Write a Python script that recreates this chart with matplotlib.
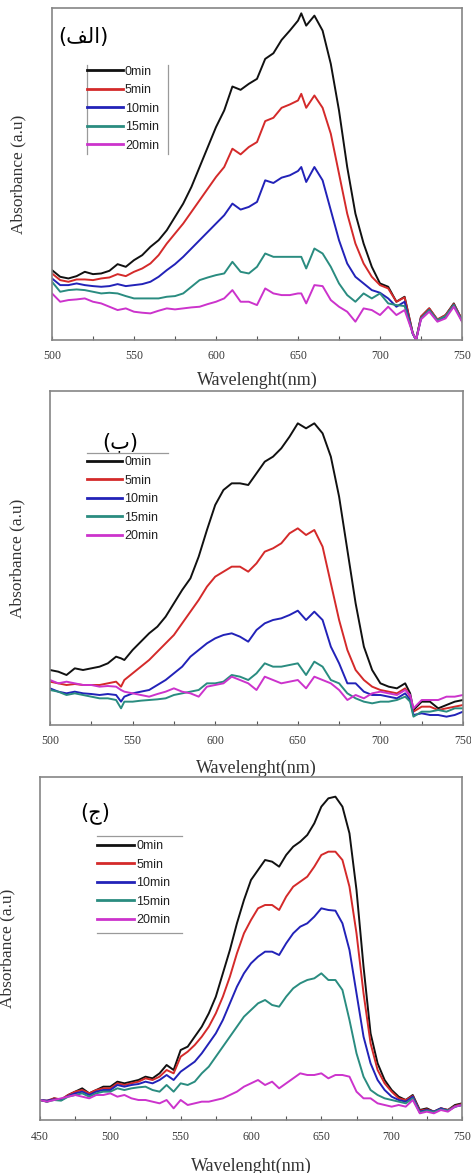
import matplotlib
matplotlib.use("Agg")
import matplotlib.pyplot as plt
from matplotlib.lines import Line2D
from matplotlib.ticker import MultipleLocator

# ---------------- data (absorbance, arbitrary units) ----------------
labels = ["0min", "5min", "10min", "15min", "20min"]
colors = ["#111111", "#d42a2a", "#2222b8", "#2a8c80", "#cc33cc"]

# Panel (a)
wl_a = list(range(500, 651, 5)) + [652] + list(range(655, 721, 5)) + [722] + list(range(725, 751, 5))
a_0 = [210, 190, 185, 192, 205, 198, 200, 208, 228, 220, 240, 255, 280, 300, 330, 370, 410, 460, 520, 580,
       640, 690, 762, 752, 770, 785, 845, 862, 902, 930, 960, 982, 945, 975, 930, 830, 690, 520, 380, 290,
       220, 170, 160, 115, 130, 20, 0, 70, 95, 60, 75, 110, 60]
a_5 = [200, 180, 175, 182, 182, 180, 185, 188, 198, 192, 205, 215, 230, 255, 290, 320, 350, 385, 420, 455,
       490, 520, 575, 558, 580, 595, 658, 668, 698, 708, 720, 740, 698, 735, 698, 620, 500, 380, 290, 230,
       190, 165, 155, 115, 128, 20, 2, 70, 95, 62, 75, 108, 62]
a_10 = [185, 165, 165, 170, 165, 162, 160, 162, 168, 162, 165, 168, 175, 190, 210, 228, 250, 275, 300, 325,
        350, 375, 410, 392, 400, 415, 480, 472, 488, 495, 508, 520, 475, 520, 480, 390, 300, 230, 190, 170,
        150, 142, 125, 100, 115, 18, 0, 65, 90, 58, 70, 105, 58]
a_15 = [175, 145, 150, 152, 150, 145, 140, 142, 140, 132, 125, 125, 125, 125, 130, 132, 140, 160, 180, 188,
        195, 200, 235, 205, 200, 220, 260, 250, 250, 250, 250, 250, 215, 275, 260, 220, 170, 135, 115, 140,
        125, 140, 110, 105, 102, 20, 2, 65, 90, 60, 72, 105, 58]
a_20 = [140, 115, 120, 122, 125, 115, 110, 100, 90, 95, 85, 82, 80, 88, 95, 92, 95, 98, 100, 108,
        115, 125, 150, 115, 115, 105, 155, 140, 135, 135, 140, 140, 110, 165, 162, 120, 100, 85, 55, 95,
        90, 75, 100, 75, 90, 20, 0, 62, 85, 55, 65, 100, 55]

# Panel (b)
wl_b = list(range(500, 541, 5)) + [543] + list(range(545, 716, 5)) + [718] + list(range(720, 751, 5))
b_0 = [165, 160, 150, 170, 165, 170, 175, 185, 205, 200, 195, 225, 250, 275, 295, 325, 365, 405, 440, 505,
       585, 660, 705, 725, 725, 720, 755, 790, 805, 830, 865, 905, 890, 905, 875, 805, 685, 525, 365, 235,
       165, 125, 115, 110, 125, 95, 45, 70, 70, 50, 60, 70, 75]
b_5 = [130, 125, 120, 123, 120, 120, 120, 125, 130, 115, 135, 155, 175, 195, 220, 245, 270, 305, 340, 375,
       415, 445, 460, 475, 475, 460, 485, 520, 530, 545, 575, 590, 570, 585, 535, 425, 315, 225, 165, 135,
       115, 105, 100, 95, 110, 85, 40, 55, 55, 45, 50, 55, 60]
b_10 = [110, 100, 95, 100, 95, 93, 90, 93, 90, 70, 85, 95, 100, 105, 120, 135, 155, 175, 205, 225,
        245, 260, 270, 275, 265, 250, 285, 305, 315, 320, 330, 343, 315, 340, 315, 235, 185, 125, 125, 100,
        90, 90, 85, 80, 95, 75, 30, 35, 30, 30, 25, 30, 40]
b_15 = [105, 100, 90, 95, 90, 85, 80, 80, 75, 50, 70, 70, 73, 75, 77, 80, 90, 95, 100, 105,
        125, 125, 130, 150, 145, 135, 155, 185, 175, 175, 180, 185, 150, 190, 175, 135, 125, 95, 80, 70,
        65, 70, 70, 75, 85, 70, 25, 40, 40, 45, 40, 50, 50]
b_20 = [135, 125, 130, 125, 120, 120, 115, 117, 115, 105, 100, 95, 90, 85, 93, 100, 110, 100, 95, 85,
        115, 120, 125, 145, 135, 125, 105, 145, 135, 125, 130, 135, 110, 145, 135, 125, 105, 75, 90, 80,
        95, 100, 95, 90, 105, 90, 50, 75, 75, 75, 85, 85, 90]

# Panel (c)
wl_c = list(range(450, 751, 5))
c_0 = [60, 55, 65, 60, 75, 85, 95, 80, 90, 100, 100, 115, 110, 115, 120, 130, 125, 140, 165, 150,
       210, 220, 250, 280, 320, 370, 440, 510, 590, 660, 720, 750, 780, 775, 760, 795, 820, 835, 855, 890,
       940, 965, 970, 940, 860, 690, 460, 260, 170, 120, 90, 70, 60, 75, 30, 35, 25, 35, 30, 45, 50]
c_5 = [60, 58, 65, 62, 75, 85, 90, 80, 90, 95, 95, 110, 105, 110, 115, 125, 120, 130, 150, 140,
       190, 205, 225, 250, 280, 320, 370, 430, 500, 560, 600, 635, 645, 645, 630, 670, 700, 715, 730, 760,
       795, 805, 805, 780, 700, 560, 380, 230, 150, 110, 85, 65, 60, 72, 28, 32, 25, 35, 30, 42, 48]
c_10 = [60, 58, 62, 60, 72, 80, 85, 75, 85, 90, 90, 105, 100, 105, 108, 115, 110, 120, 135, 120,
        145, 160, 175, 200, 230, 260, 300, 350, 400, 440, 470, 490, 505, 505, 495, 530, 560, 580, 590, 610,
        635, 630, 628, 590, 510, 380, 250, 170, 120, 90, 70, 60, 55, 70, 25, 30, 25, 35, 28, 40, 45]
c_15 = [60, 55, 60, 58, 70, 75, 80, 70, 80, 85, 85, 95, 90, 95, 98, 100, 90, 85, 105, 85,
        110, 105, 115, 140, 160, 190, 220, 250, 280, 310, 330, 350, 360, 345, 340, 370, 395, 410, 420, 425,
        440, 420, 420, 390, 300, 200, 130, 90, 75, 65, 60, 55, 50, 65, 22, 28, 24, 32, 28, 40, 45]
c_20 = [60, 55, 60, 65, 70, 75, 70, 65, 75, 75, 80, 70, 75, 65, 60, 60, 55, 50, 60, 35,
        60, 45, 50, 55, 55, 60, 65, 75, 85, 100, 110, 120, 105, 115, 95, 110, 125, 140, 135, 135,
        140, 125, 135, 135, 130, 85, 65, 65, 50, 45, 40, 45, 40, 60, 20, 25, 20, 30, 25, 40, 45]

# panel tags, written in visual order with Arabic presentation forms
tags = ["(\uFED2\uFEDF\uFE8D)", "(\uFE8F)", "(\uFE9D)"]

panels = [
    dict(wl=wl_a, ys=[a_0, a_5, a_10, a_15, a_20], xlim=(500, 750), ylim=(0, 998),
         rect=(52, 8, 462, 340), leg=(0.085, 0.826, 2.9), tag=(0.076, 0.913),
         frame=[((0.085, 0.085), (0.829, 0.559)), ((0.283, 0.283), (0.829, 0.559))],
         ylab=-0.062, xlab=-0.096, pad=7),
    dict(wl=wl_b, ys=[b_0, b_5, b_10, b_15, b_20], xlim=(500, 750), ylim=(0, 1002),
         rect=(50, 391, 463, 725), leg=(0.09, 0.805, 2.8), tag=(0.17, 0.847),
         frame=[((0.09, 0.286), (0.814, 0.814))],
         ylab=-0.06, xlab=-0.105, pad=7.5),
    dict(wl=wl_c, ys=[c_0, c_5, c_10, c_15, c_20], xlim=(450, 750), ylim=(0, 1029),
         rect=(40, 777, 462, 1120), leg=(0.135, 0.816, 3.0), tag=(0.13, 0.895),
         frame=[((0.135, 0.336), (0.828, 0.828)), ((0.135, 0.336), (0.545, 0.545))],
         ylab=-0.058, xlab=-0.11, pad=8),
]

W, H = 471, 1173
fig = plt.figure(figsize=(W / 100, H / 100), dpi=100)
fig.patch.set_facecolor("white")

serif = ["Liberation Serif", "DejaVu Serif"]
sans = ["Liberation Sans", "DejaVu Sans"]

for i, p in enumerate(panels):
    l, t, r, b = p["rect"]
    ax = fig.add_axes([l / W, 1 - b / H, (r - l) / W, (b - t) / H])
    for lab, col, y in zip(labels, colors, p["ys"]):
        ax.plot(p["wl"], y, color=col, lw=1.4, label=lab)
    ax.set_xlim(*p["xlim"])
    ax.set_ylim(*p["ylim"])
    ax.xaxis.set_major_locator(MultipleLocator(50))
    ax.xaxis.set_minor_locator(MultipleLocator(25))
    ax.set_yticks([])
    ax.tick_params(axis="x", which="both", direction="in", length=3, width=0.8,
                   color="#555555", pad=p["pad"], labelsize=8.5, labelcolor="#3a3a3a")
    for tl in ax.get_xticklabels():
        tl.set_family(serif)
    for s in ax.spines.values():
        s.set_color("#858585")
        s.set_linewidth(1.2)
    ax.set_xlabel("Wavelenght(nm)", family=serif, fontsize=13, color="#333333")
    ax.set_ylabel("Absorbance (a.u)", family=serif, fontsize=12.5, color="#333333")
    ax.xaxis.set_label_coords(0.5, p["xlab"])
    ax.yaxis.set_label_coords(p["ylab"], 0.5)

    lx, ly, hl = p["leg"]
    leg = ax.legend(loc="upper left", bbox_to_anchor=(lx, ly), frameon=False,
                    borderpad=0, borderaxespad=0, handlelength=hl, handletextpad=0.15,
                    labelspacing=0.52, prop={"family": sans, "size": 9})
    for txt in leg.get_texts():
        txt.set_color("#222222")
    for ln in leg.get_lines():
        ln.set_linewidth(2.0)

    for xs, ys in p["frame"]:
        ax.add_line(Line2D(xs, ys, transform=ax.transAxes, color="#9a9a9a", lw=0.9))

    tx, ty = p["tag"]
    ax.text(tx, ty, tags[i], transform=ax.transAxes, ha="center", va="center",
            fontsize=15, family=["DejaVu Sans"], color="black")

fig.savefig("out.png", dpi=100)
